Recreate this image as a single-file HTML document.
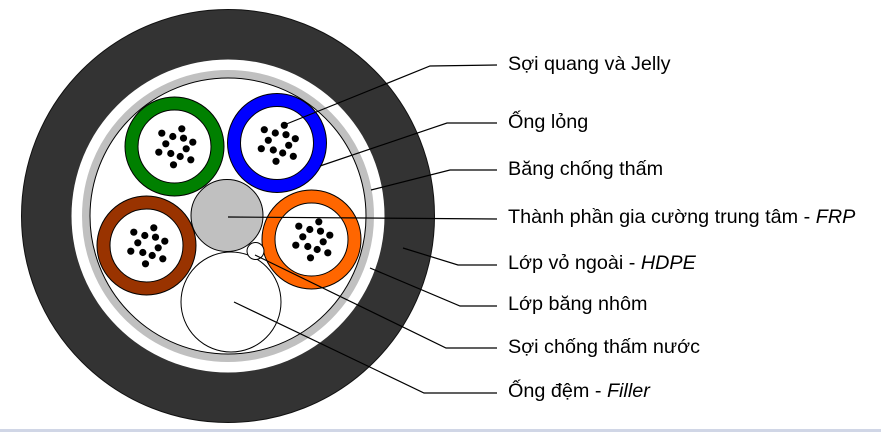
<!DOCTYPE html>
<html><head><meta charset="utf-8"><style>
html,body{margin:0;padding:0;background:#fff;width:881px;height:432px;overflow:hidden}
svg{display:block}
text{font-family:"Liberation Sans",Arial,sans-serif;font-size:19.8px;fill:#000}
</style></head><body>
<svg width="881" height="432" viewBox="0 0 881 432">
<defs>
<g id="dots" fill="#000">
<circle cx="-12.7" cy="-13.3" r="3.6"/><circle cx="7.3" cy="-17.7" r="3.6"/><circle cx="-1.7" cy="-10" r="3.6"/><circle cx="9" cy="-8.3" r="3.6"/><circle cx="18.3" cy="-4.3" r="3.6"/><circle cx="-8.7" cy="-2.7" r="3.6"/><circle cx="11.7" cy="2.3" r="3.6"/><circle cx="-15.7" cy="5.7" r="3.6"/><circle cx="-3.7" cy="7" r="3.6"/><circle cx="5.7" cy="10" r="3.6"/><circle cx="16.3" cy="13.3" r="3.6"/><circle cx="-1" cy="18.3" r="3.6"/>
</g>
</defs>
<circle cx="228" cy="216" r="206.5" fill="#333" stroke="#111" stroke-width="1"/>
<circle cx="228" cy="216" r="156.5" fill="#fff"/>
<circle cx="228" cy="216" r="142" fill="none" stroke="#c0c0c0" stroke-width="8"/>
<circle cx="228" cy="216" r="138" fill="#fff" stroke="#000" stroke-width="1"/>
<g stroke="#000" stroke-width="1">
<circle cx="174.5" cy="146.5" r="49.5" fill="#008000"/><circle cx="174.5" cy="146.5" r="36.5" fill="#fff"/>
<circle cx="277" cy="143" r="49.5" fill="#0000ff"/><circle cx="277" cy="143" r="36.5" fill="#fff"/>
<circle cx="146.5" cy="245.5" r="49.5" fill="#993300"/><circle cx="146.5" cy="245.5" r="36.5" fill="#fff"/>
<circle cx="311.5" cy="239.5" r="49.5" fill="#ff6600"/><circle cx="311.5" cy="239.5" r="36.5" fill="#fff"/>
<circle cx="227" cy="215.5" r="36" fill="#c0c0c0"/>
<circle cx="231" cy="302" r="50" fill="#fff"/>
<circle cx="255.5" cy="251" r="8.5" fill="#fff"/>
</g>
<use href="#dots" x="174.5" y="146.5"/>
<use href="#dots" x="277" y="143"/>
<use href="#dots" x="146.5" y="245.5"/>
<use href="#dots" x="311.5" y="239.5"/>
<g stroke="#000" stroke-width="1.2" fill="none">
<polyline points="284,125 430,66 497,65"/>
<polyline points="320,166 447,123 497,123"/>
<polyline points="371,190 450,170 497,170"/>
<polyline points="228,217 497,219"/>
<polyline points="403,248 458,265 497,265"/>
<polyline points="370,268 460,306 497,306"/>
<polyline points="255,255 446,348 497,348"/>
<polyline points="234,302 424,393 497,393"/>
</g>
<text x="508" y="70">Sợi quang và Jelly</text>
<text x="508" y="128">Ống lỏng</text>
<text x="508" y="175">Băng chống thấm</text>
<text x="508" y="223">Thành phần gia cường trung tâm - <tspan font-style="italic">FRP</tspan></text>
<text x="508" y="269">Lớp vỏ ngoài - <tspan font-style="italic">HDPE</tspan></text>
<text x="508" y="310">Lớp băng nhôm</text>
<text x="508" y="353">Sợi chống thấm nước</text>
<text x="508" y="397">Ống đệm - <tspan font-style="italic">Filler</tspan></text>
<rect x="0" y="429" width="881" height="3" fill="#d0d6e6"/>
</svg>
</body></html>
